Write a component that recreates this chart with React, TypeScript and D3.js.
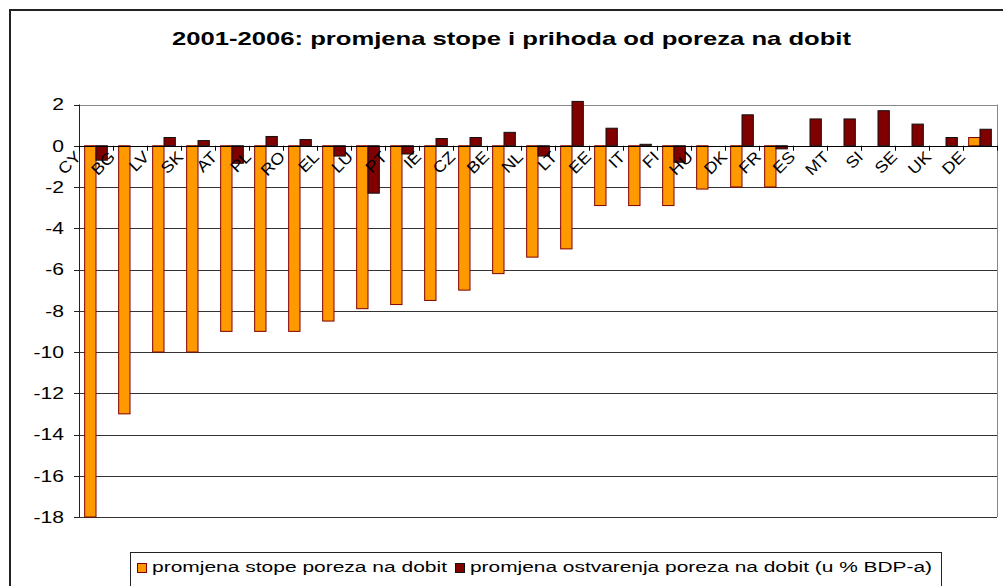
import React from "react";
import * as d3 from "d3";

const categories = ["CY", "BG", "LV", "SK", "AT", "PL", "RO", "EL", "LU", "PT", "IE", "CZ", "BE", "NL", "LT", "EE", "IT", "FI", "HU", "DK", "FR", "ES", "MT", "SI", "SE", "UK", "DE"];
const rateChange = [-18, -13, -10, -10, -9, -9, -9, -8.5, -7.9, -7.7, -7.5, -7, -6.2, -5.4, -5, -2.9, -2.9, -2.9, -2.1, -2, -2, 0, 0, 0, 0, 0, 0.4];
const revenueChange = [-0.7, 0, 0.4, 0.25, -0.85, 0.45, 0.3, -0.5, -2.3, -0.4, 0.35, 0.4, 0.65, -0.5, 2.15, 0.85, 0.07, -0.8, 0, 1.5, -0.15, 1.3, 1.3, 1.7, 1.05, 0.4, 0.8];
const yTicks = [2, 0, -2, -4, -6, -8, -10, -12, -14, -16, -18];
const seriesNames = ["promjena stope poreza na dobit", "promjena ostvarenja poreza na dobit (u % BDP-a)"];
const title = "2001-2006:  promjena stope i prihoda od poreza na dobit";

const FONT = "'Liberation Sans', Arial, sans-serif";

export default function App() {
  const left = 79, right = 997, top = 104.5, bottom = 517;
  const x = d3.scaleBand<string>().domain(categories).range([left, right]).paddingInner(0).paddingOuter(0);
  const y = d3.scaleLinear().domain([-18, 2]).range([bottom, top]);
  const bw = x.bandwidth() / 3;
  const y0 = y(0);
  const sx = 1.32;

  return (
    <div style={{ position: "fixed", left: 0, top: 0 }}>
      <svg width={1003} height={586} style={{ display: "block", background: "#fff" }} fontFamily={FONT}>
        <rect x={10} y={10} width={1000} height={600} fill="#fff" stroke="#222" strokeWidth={2} />
        <text x={511.5} y={45} textAnchor="middle" fontSize={18.5} fontWeight="bold" textLength={679} lengthAdjust="spacingAndGlyphs">{title}</text>

        {/* plot area */}
        <rect x={left} y={top} width={right - left} height={bottom - top} fill="#fff" stroke="none" />
        {yTicks.map((t) => (
          <line key={"g" + t} x1={left} x2={right} y1={Math.round(y(t)) + 0.5} y2={Math.round(y(t)) + 0.5} stroke={t === 2 ? "#888" : "#333"} strokeWidth={1} />
        ))}
        <line x1={right + 0.5} x2={right + 0.5} y1={top} y2={bottom} stroke="#888" />

        {/* bars */}
        {categories.map((c, i) => {
          const bx = (x(c) as number) + bw / 2;
          const v1 = rateChange[i];
          const v2 = revenueChange[i];
          return (
            <g key={c}>
              {v1 !== 0 && (
                <rect x={bx} y={Math.min(y(v1), y0)} width={bw} height={Math.abs(y(v1) - y0)} fill="#FF9900" stroke="#800000" strokeWidth={1} />
              )}
              {v2 !== 0 && (
                <rect x={bx + bw} y={Math.min(y(v2), y0)} width={bw} height={Math.abs(y(v2) - y0)} fill="#800000" stroke="#111" strokeWidth={1} />
              )}
            </g>
          );
        })}

        {/* y axis */}
        <line x1={left + 0.5} x2={left + 0.5} y1={top} y2={bottom} stroke="#222" />
        {yTicks.map((t) => (
          <g key={"t" + t}>
            <line x1={left - 5} x2={left} y1={Math.round(y(t)) + 0.5} y2={Math.round(y(t)) + 0.5} stroke="#222" />
            <text transform={`translate(64,${y(t)}) scale(${sx},1)`} dy="0.36em" textAnchor="end" fontSize={16}>{t}</text>
          </g>
        ))}

        {/* x axis at zero */}
        <line x1={left} x2={right} y1={Math.round(y0) + 0.5} y2={Math.round(y0) + 0.5} stroke="#000" />
        {categories.map((c) => (
          <line key={"xt" + c} x1={Math.round(x(c) as number) + 0.5} x2={Math.round(x(c) as number) + 0.5} y1={y0} y2={y0 + 5} stroke="#000" />
        ))}
        <line x1={right + 0.5} x2={right + 0.5} y1={y0} y2={y0 + 5} stroke="#000" />
        {categories.map((c) => (
          <text key={"xl" + c} transform={`translate(${(x(c) as number) - 5},${y0 + 4}) rotate(-45) scale(1.12,1)`} dy="0.72em" textAnchor="end" fontSize={16}>{c}</text>
        ))}

        {/* legend */}
        <rect x={130.5} y={552.5} width={811} height={60} fill="#fff" stroke="#222" />
        <rect x={137.5} y={563.5} width={9} height={9} fill="#FF9900" stroke="#800000" />
        <text x={152} y={572} fontSize={15.5} textLength={295} lengthAdjust="spacingAndGlyphs">{seriesNames[0]}</text>
        <rect x={455.5} y={563.5} width={9} height={9} fill="#800000" stroke="#111" />
        <text x={470} y={572} fontSize={15.5} textLength={462} lengthAdjust="spacingAndGlyphs">{seriesNames[1]}</text>
      </svg>
    </div>
  );
}
